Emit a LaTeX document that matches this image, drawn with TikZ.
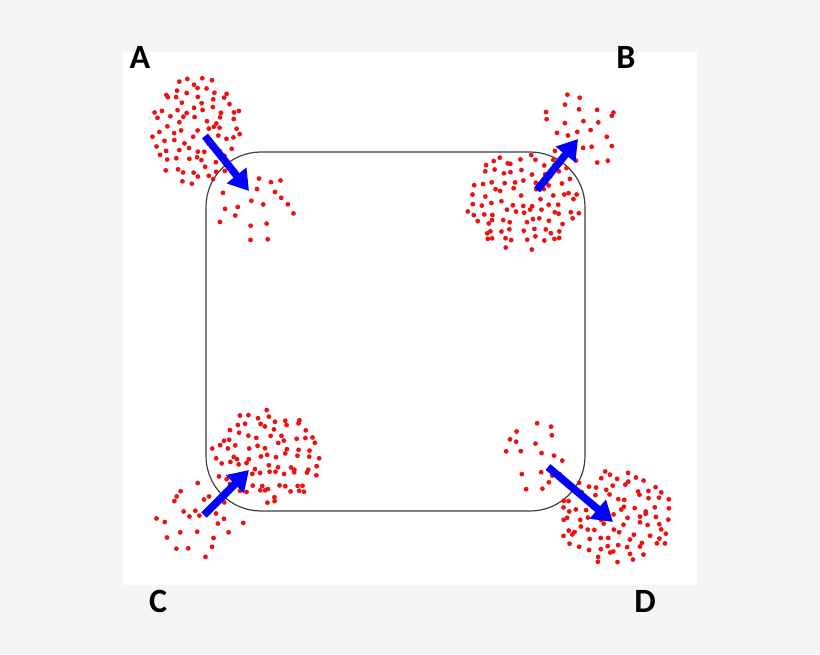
\documentclass[tikz,border=0pt]{standalone}
\usepackage{fontspec}
\setmainfont{Carlito}
\usetikzlibrary{arrows.meta}
\definecolor{bg}{HTML}{F5F5F5}
\definecolor{dotred}{HTML}{EE1111}
% cx cy rx ry spacing gridrange
\newcommand\dotcluster[6]{%
  \foreach \gx in {-#6,...,#6}{%
    \foreach \gy in {-#6,...,#6}{%
      \pgfmathsetmacro\uu{\gx*#5+0.45*#5*rand}%
      \pgfmathsetmacro\vv{\gy*#5+0.45*#5*rand}%
      \pgfmathtruncatemacro\inside{(\uu*\uu/(#3*#3)+\vv*\vv/(#4*#4))<1}%
      \ifnum\inside=1 \fill[dotred] ({#1+\uu},{#2+\vv}) circle (2.4);\fi
    }%
  }%
}
\begin{document}
\begin{tikzpicture}[x=1pt,y=-1pt,
  flow/.style={draw=blue, line width=7.5pt, -{Triangle[length=20pt,width=24pt]}},
  lbl/.style={font=\fontsize{34}{34}\selectfont\bfseries, inner sep=0pt}]
\useasboundingbox (0,0) rectangle (820,654);
\fill[bg] (0,0) rectangle (820,654);
\fill[white] (123,52) rectangle (697,585);
\draw[line width=1.2pt, draw=black!75, rounded corners=55pt] (206,152) rectangle (585,511);
\pgfmathsetseed{11}
% A
\dotcluster{195}{130}{47}{54}{9.6}{7}
\dotcluster{255}{207}{40}{36}{14.5}{3}
% B
\dotcluster{523}{202}{58}{49}{9.6}{7}
\dotcluster{580}{135}{40}{44}{14.5}{3}
% C
\dotcluster{268}{456}{58}{48}{9.6}{7}
\dotcluster{200}{522}{44}{40}{14.5}{3}
% D
\dotcluster{617}{517}{58}{49}{9.6}{7}
\dotcluster{537}{455}{35}{36}{14.5}{3}
% arrows
\coordinate (a1) at (205,136); \coordinate (a2) at (249,191);
\coordinate (b1) at (537,190); \coordinate (b2) at (578,139);
\coordinate (c1) at (204,515); \coordinate (c2) at (249,470);
\coordinate (d1) at (548,467); \coordinate (d2) at (613,522);
\draw[flow] (a1) -- (a2);
\draw[flow] (b1) -- (b2);
\draw[flow] (c1) -- (c2);
\draw[flow] (d1) -- (d2);
% labels
\node[lbl] (la) at (140,57) {A};
\node[lbl] (lb) at (626,57) {B};
\node[lbl] (lc) at (158,601) {C};
\node[lbl] (ld) at (645,601) {D};
\end{tikzpicture}
\end{document}
